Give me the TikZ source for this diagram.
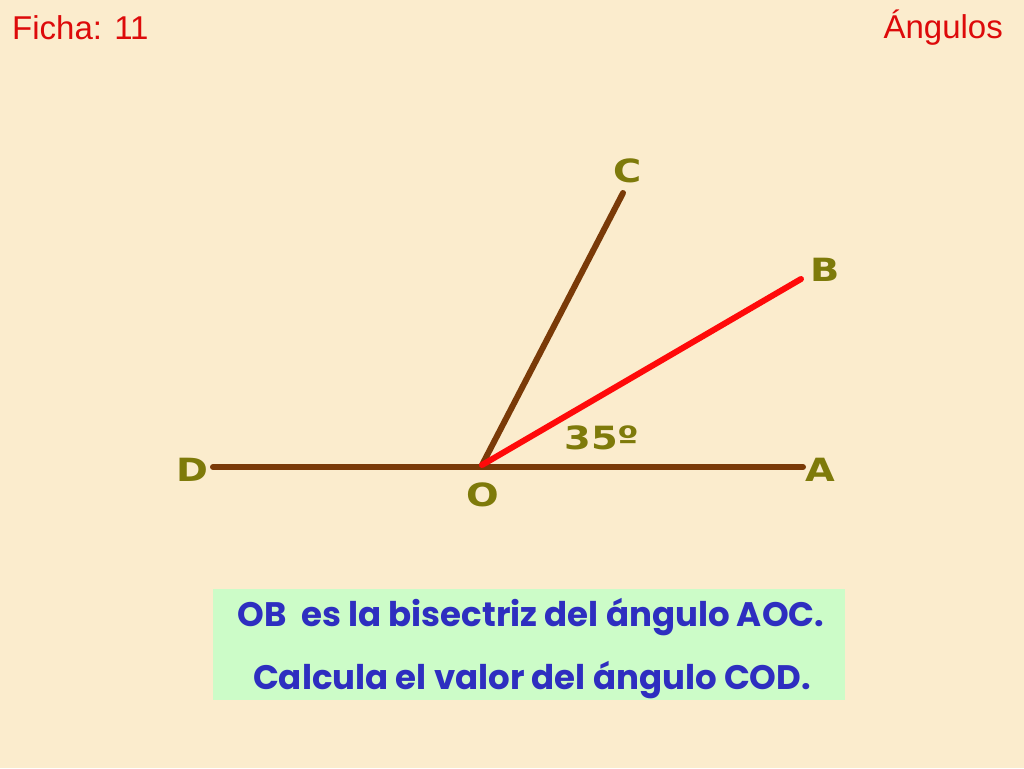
\documentclass[tikz,border=0pt]{standalone}
\usepackage{fontspec}
\setmainfont{Liberation Sans}
\newfontfamily\lblfont{DejaVu Sans}
\newfontfamily\boxfont{Poppins}
\definecolor{bgc}{HTML}{FBECCD}
\definecolor{brownl}{HTML}{7A3A08}
\definecolor{redl}{HTML}{FF0A0A}
\definecolor{olive}{HTML}{7E7A0A}
\definecolor{boxg}{HTML}{CCFCC8}
\definecolor{bluet}{HTML}{2E2EC0}
\definecolor{titred}{HTML}{DD0A0A}
\tikzset{
  seg/.style={line width=6pt, line cap=round},
  lbl/.style={text=olive, font=\lblfont\bfseries\fontsize{32}{32}\selectfont, inner sep=0pt, xscale=1.2},
  title/.style={text=titred, font=\fontsize{33}{33}\selectfont, inner sep=0pt},
  boxt/.style={text=bluet, font=\boxfont\bfseries\fontsize{34}{36}\selectfont, inner sep=0pt},
}
\begin{document}
\begin{tikzpicture}[x=1pt,y=-1pt]
\fill[bgc] (0,0) rectangle (1024,768);
\useasboundingbox (0,0) rectangle (1024,768);
\node[title, anchor=west] (fich) at (12,28) {Ficha: 11};
\node[title, anchor=east] (ang) at (1003,28) {Ángulos};
\coordinate (O) at (482,465);
\coordinate (A) at (803,467);
\coordinate (D) at (213,467);
\coordinate (C) at (623,193);
\coordinate (B) at (801,279);
\draw[seg, brownl] (D) -- (A);
\draw[seg, brownl] (O) -- (C);
\draw[seg, redl] (O) -- (B);
\node[lbl] (lC) at (628,171) {C};
\node[lbl] (lB) at (825,270) {B};
\node[lbl] (lA) at (820,470) {A};
\node[lbl] (lD) at (192,470) {D};
\node[lbl] (lO) at (483,495) {O};
\node[lbl] (l35) at (602,438) {35º};
\fill[boxg] (213,589) rectangle (845,700);
\node[boxt] (t1) at (531,617) {OB\ \ es la bisectriz del ángulo AOC.};
\node[boxt] (t2) at (532,680) {Calcula el valor del ángulo COD.};
\end{tikzpicture}
\end{document}
